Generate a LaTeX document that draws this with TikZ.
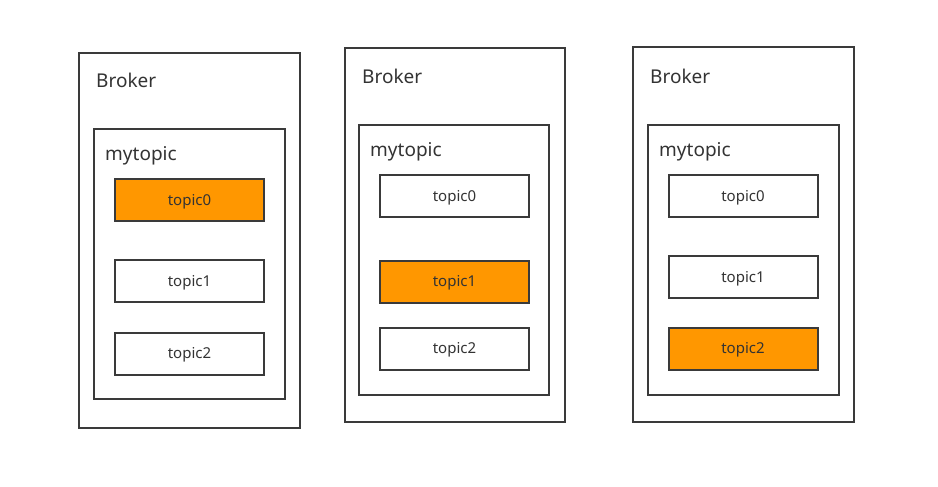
\documentclass[tikz,border=0pt]{standalone}
\usepackage{fontspec}
\setmainfont{Noto Sans}
\definecolor{lineGray}{HTML}{3A3A3A}
\definecolor{textGray}{HTML}{333333}
\definecolor{hotOrange}{HTML}{FF9700}
\tikzset{
  brokerbox/.style={draw=lineGray, line width=2pt, fill=white, inner sep=0pt},
  topicbox/.style={draw=lineGray, line width=2pt, fill=white, inner sep=0pt,
    minimum width=149pt, minimum height=42pt, text=textGray,
    font=\fontsize{15}{16}\selectfont, text depth=1pt},
  activebox/.style={topicbox, fill=hotOrange},
  boxtitle/.style={anchor=west, inner sep=0pt, text=textGray, font=\fontsize{19}{22}\selectfont},
}

\begin{document}
\begin{tikzpicture}[x=1pt,y=-1pt]
\useasboundingbox (0,0) rectangle (938,487);
% first broker
\node[brokerbox, minimum width=221pt, minimum height=375pt] (brokerA) at (189.5,240.5) {};
\node[boxtitle] (brokerAlabel) at (96,80) {Broker};
\node[brokerbox, minimum width=191pt, minimum height=270pt] (mytopicA) at (189.5,264) {};
\node[boxtitle] (mytopicAlabel) at (105,156) {mytopic};
\node[activebox] (topicA0) at (189.5,200) {topic0};
\node[topicbox] (topicA1) at (189.5,281) {topic1};
\node[topicbox] (topicA2) at (189.5,353.5) {topic2};
% second broker
\node[brokerbox, minimum width=220pt, minimum height=374pt] (brokerB) at (455,235) {};
\node[boxtitle] (brokerBlabel) at (362,76) {Broker};
\node[brokerbox, minimum width=190pt, minimum height=270pt] (mytopicB) at (454,260) {};
\node[boxtitle] (mytopicBlabel) at (370,152) {mytopic};
\node[topicbox] (topicB0) at (454.5,196) {topic0};
\node[activebox] (topicB1) at (454.5,281.5) {topic1};
\node[topicbox] (topicB2) at (454.5,348.5) {topic2};
% third broker
\node[brokerbox, minimum width=221pt, minimum height=375pt] (brokerC) at (743.5,234.5) {};
\node[boxtitle] (brokerClabel) at (650,76) {Broker};
\node[brokerbox, minimum width=191pt, minimum height=270pt] (mytopicC) at (743.5,260) {};
\node[boxtitle] (mytopicClabel) at (659,152) {mytopic};
\node[topicbox] (topicC0) at (743,196) {topic0};
\node[topicbox] (topicC1) at (743,277) {topic1};
\node[activebox] (topicC2) at (743,348.5) {topic2};
\end{tikzpicture}
\end{document}
